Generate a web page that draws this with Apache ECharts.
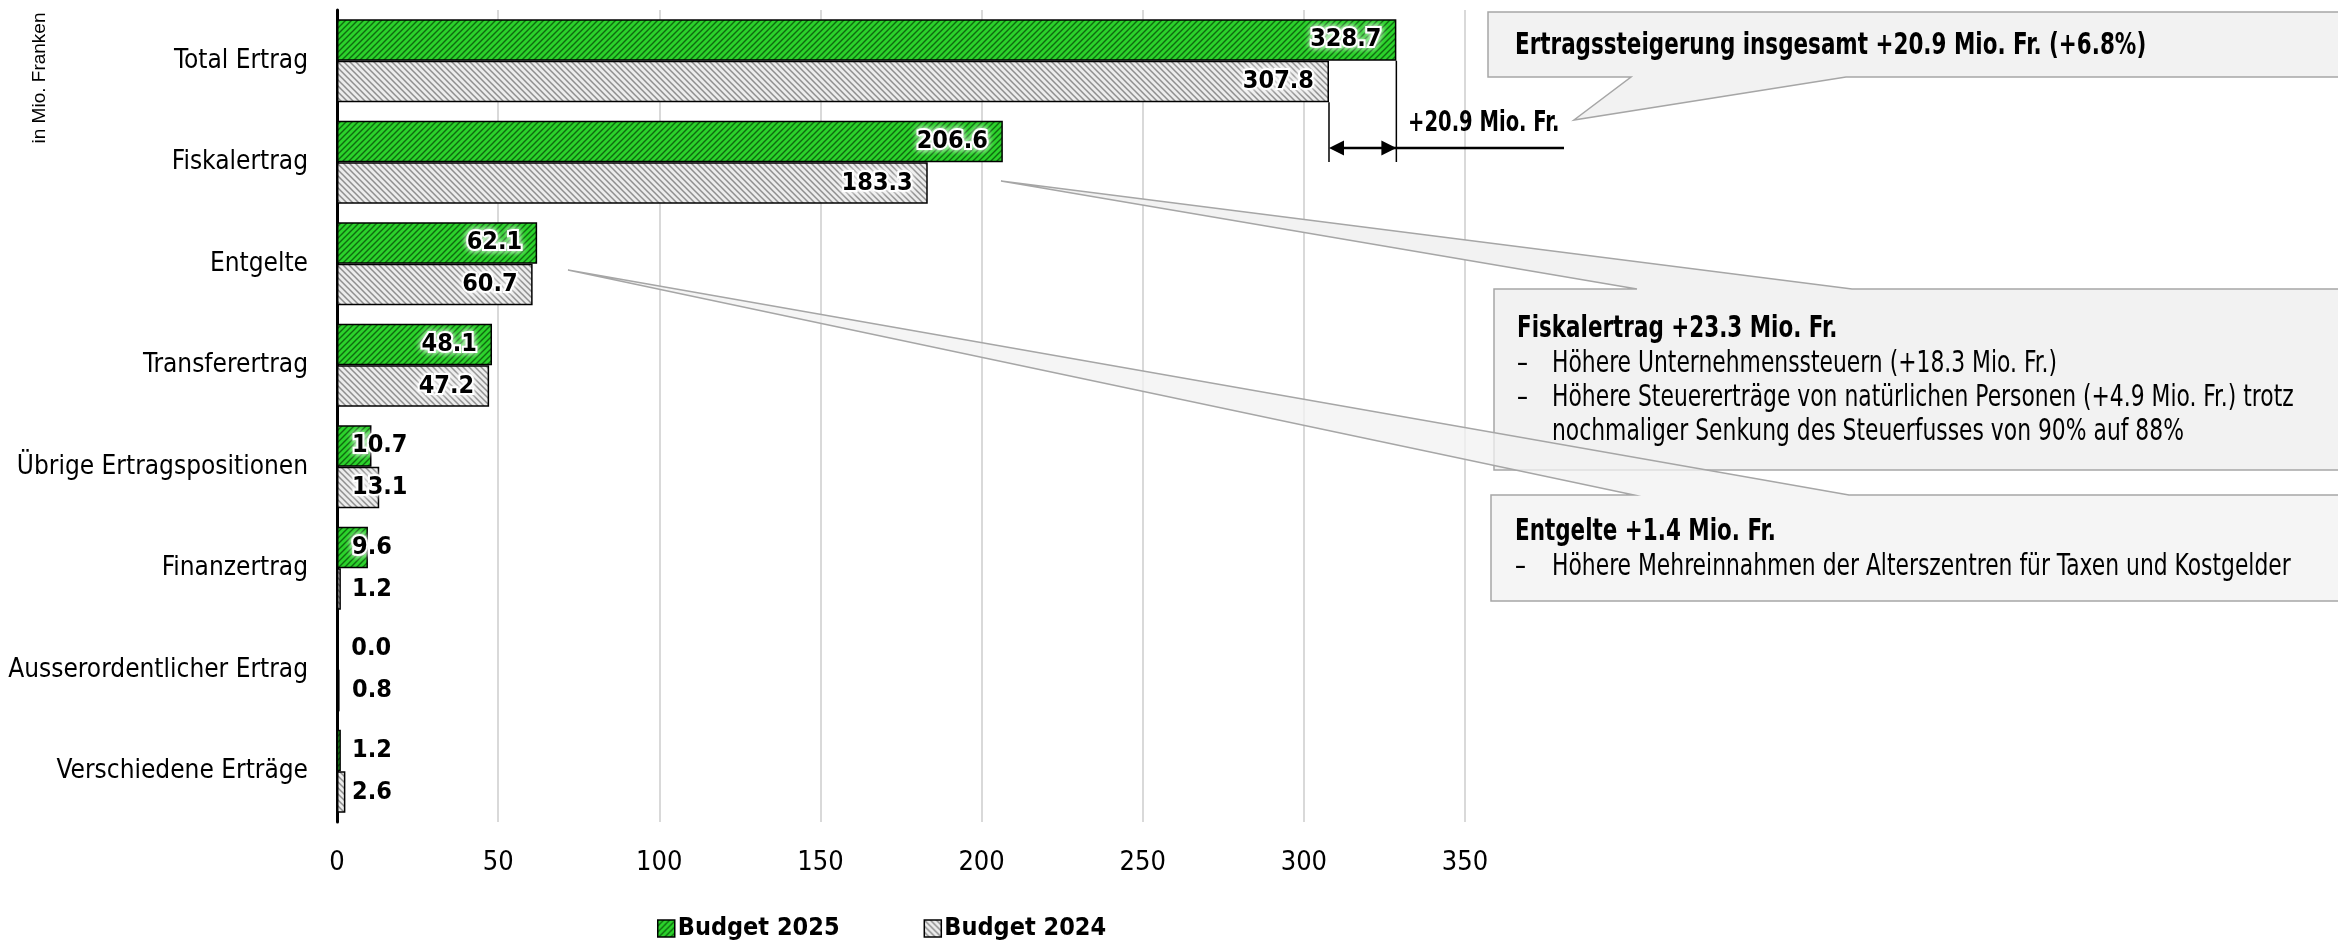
<!DOCTYPE html>
<html>
<head>
<meta charset="utf-8">
<script src="https://cdn.jsdelivr.net/npm/echarts@6/dist/echarts.min.js"></script>
<style>
html,body{margin:0;padding:0;background:#fff;}
#c{width:2338px;height:940px;}
</style>
</head>
<body>
<div id="c"></div>
<script>
const categories = ['Total Ertrag','Fiskalertrag','Entgelte','Transferertrag','Übrige Ertragspositionen','Finanzertrag','Ausserordentlicher Ertrag','Verschiedene Erträge'];
const budget2025 = [328.7, 206.6, 62.1, 48.1, 10.7, 9.6, 0.0, 1.2];
const budget2024 = [307.8, 183.3, 60.7, 47.2, 13.1, 1.2, 0.8, 2.6];
const seriesNames = ['Budget 2025', 'Budget 2024'];
const xTicks = {min: 0, max: 350, interval: 50};
const unitLabel = 'in Mio. Franken';
const diffLabel = '+20.9 Mio. Fr.';
const callout1 = 'Ertragssteigerung insgesamt +20.9 Mio. Fr. (+6.8%)';
const callout2Title = 'Fiskalertrag +23.3 Mio. Fr.';
const callout2Lines = ['Höhere Unternehmenssteuern (+18.3 Mio. Fr.)', 'Höhere Steuererträge von natürlichen Personen (+4.9 Mio. Fr.) trotz', 'nochmaliger Senkung des Steuerfusses von 90% auf 88%'];
const callout3Title = 'Entgelte +1.4 Mio. Fr.';
const callout3Lines = ['Höhere Mehreinnahmen der Alterszentren für Taxen und Kostgelder'];

const NARROW = "'Liberation Sans Narrow','Arial Narrow','DejaVu Sans Condensed',sans-serif";

function makePattern(bg, fg, dir, lw) {
  const s = 6;
  const c = document.createElement('canvas');
  c.width = s; c.height = s;
  const g = c.getContext('2d');
  g.fillStyle = bg; g.fillRect(0, 0, s, s);
  g.strokeStyle = fg; g.lineWidth = lw;
  g.beginPath();
  if (dir === '/') {
    g.moveTo(-1, 1); g.lineTo(1, -1);
    g.moveTo(0, s); g.lineTo(s, 0);
    g.moveTo(s - 1, s + 1); g.lineTo(s + 1, s - 1);
  } else {
    g.moveTo(-1, s - 1); g.lineTo(1, s + 1);
    g.moveTo(0, 0); g.lineTo(s, s);
    g.moveTo(s - 1, -1); g.lineTo(s + 1, 1);
  }
  g.stroke();
  return {image: c, repeat: 'repeat'};
}
const greenPat = makePattern('#2bd22b', '#0f6a0f', '/', 1.4);
const greyPat = makePattern('#ececec', '#8f8f8f', '\\', 1.5);

function labelFor(v) {
  const big = v > 30;
  return {
    show: true,
    position: big ? 'insideRight' : 'insideLeft',
    distance: 15,
    formatter: (p) => p.value.toFixed(1),
    fontFamily: NARROW, fontWeight: 'bold', fontSize: 25, color: '#000',
    textBorderColor: '#fff', textBorderWidth: 4,
    textShadowColor: 'rgba(255,255,255,0.9)', textShadowBlur: 6
  };
}
function mkData(arr) {
  return arr.map(v => ({value: v, label: labelFor(v)}));
}

const chart = echarts.init(document.getElementById('c'), null, {renderer: 'canvas'});
const option = {
  animation: false,
  backgroundColor: '#fff',
  grid: {left: 337, right: 873, top: 10, bottom: 118, containLabel: false, outerBoundsMode: 'none'},
  legend: {
    left: 652, top: 911,
    icon: 'rect',
    itemWidth: 17, itemHeight: 17, itemGap: 84,
    textStyle: {fontFamily: NARROW, fontWeight: 'bold', fontSize: 25, color: '#000', padding: [0,0,0,-2]},
    data: seriesNames.map(n => ({name: n, itemStyle: {borderColor: '#000', borderWidth: 1.5}}))
  },
  xAxis: {
    type: 'value', min: xTicks.min, max: xTicks.max, interval: xTicks.interval,
    axisLine: {show: false}, axisTick: {show: false},
    axisLabel: {fontFamily: NARROW, fontSize: 27, color: '#000', margin: 27},
    splitLine: {show: true, lineStyle: {color: '#d9d9d9', width: 2}}
  },
  yAxis: {
    type: 'category', data: categories, inverse: true,
    axisLine: {show: true, lineStyle: {color: '#000', width: 3}},
    axisTick: {show: false},
    axisLabel: {fontFamily: NARROW, fontSize: 26, color: '#000', margin: 29}
  },
  series: [
    {name: seriesNames[0], type: 'bar', data: mkData(budget2025), barGap: '0%', barCategoryGap: '18%',
     itemStyle: {color: greenPat, borderColor: '#000', borderWidth: 1.5}, z: 3},
    {name: seriesNames[1], type: 'bar', data: mkData(budget2024), barGap: '0%', barCategoryGap: '18%',
     itemStyle: {color: greyPat, borderColor: '#000', borderWidth: 1.5}, z: 3}
  ]
};
chart.setOption(option);

// annotations
const xNew = chart.convertToPixel({xAxisIndex: 0}, budget2025[0]);
const xOld = chart.convertToPixel({xAxisIndex: 0}, budget2024[0]);
const yTot = chart.convertToPixel({yAxisIndex: 0}, categories[0]);
const band = (940 - 118 - 10) / categories.length;
const bw = band * (1 - 0.18) / 2;
const arrowY = 148, vBottom = 162;
const fillC = '#f2f2f2', strokeC = '#a6a6a6';
const SXB = 0.77, SXR = 0.81;
const txtBold = {fontFamily: NARROW, fontWeight: 'bold', fontSize: 31, fill: '#000'};
const txtReg = {fontFamily: NARROW, fontSize: 30, fill: '#000'};

function T(x, y, text, st, sx) {
  return {type: 'text', x: x, y: y, scaleX: sx, z: 14,
    style: Object.assign({text: text, verticalAlign: 'middle', align: 'left'}, st)};
}

const g = [];
// vertical reference lines & arrow
g.push({type: 'line', shape: {x1: xNew, y1: yTot, x2: xNew, y2: vBottom}, style: {stroke: '#000', lineWidth: 1.5}, z: 10});
g.push({type: 'line', shape: {x1: xOld, y1: yTot + bw, x2: xOld, y2: vBottom}, style: {stroke: '#000', lineWidth: 1.5}, z: 10});
g.push({type: 'line', shape: {x1: xOld + 12, y1: arrowY, x2: 1564, y2: arrowY}, style: {stroke: '#000', lineWidth: 2.5}, z: 10});
g.push({type: 'polygon', shape: {points: [[xOld, arrowY], [xOld + 15, arrowY - 7.5], [xOld + 15, arrowY + 7.5]]}, style: {fill: '#000'}, z: 10});
g.push({type: 'polygon', shape: {points: [[xNew, arrowY], [xNew - 15, arrowY - 7.5], [xNew - 15, arrowY + 7.5]]}, style: {fill: '#000'}, z: 10});
g.push(T(1408, 123, diffLabel, Object.assign({}, txtBold, {fontSize: 29}), 0.75));

// callout 1
g.push({type: 'polygon', shape: {points: [[1488,12],[2345,12],[2345,77],[1846,77],[1574,120],[1631,77],[1488,77]]},
  style: {fill: fillC, stroke: strokeC, lineWidth: 1.5}, z: 11});
g.push(T(1515, 46, callout1, txtBold, SXB));

// callout 2
g.push({type: 'polygon', shape: {points: [[1494,289],[1637,289],[1001,181],[1852,289],[2345,289],[2345,470],[1494,470]]},
  style: {fill: fillC, stroke: strokeC, lineWidth: 1.5}, z: 11});
// callout 3
g.push({type: 'polygon', shape: {points: [[1491,495],[1634,495],[568,270],[1849,495],[2345,495],[2345,601],[1491,601]]},
  style: {fill: 'rgba(242,242,242,0.75)', stroke: strokeC, lineWidth: 1.5}, z: 12});

g.push(T(1517, 329, callout2Title, txtBold, SXB));
const c2y = [364, 398, 432];
callout2Lines.forEach((t, i) => {
  if (i < 2) g.push(T(1517, c2y[i], '–', txtReg, SXR));
  g.push(T(1552, c2y[i], t, txtReg, SXR));
});
g.push(T(1515, 532, callout3Title, txtBold, SXB));
g.push(T(1515, 567, '–', txtReg, SXR));
g.push(T(1552, 567, callout3Lines[0], txtReg, SXR));

// unit label
g.push({type: 'text', x: 40, y: 78, rotation: Math.PI / 2,
  style: {text: unitLabel, align: 'center', verticalAlign: 'middle', fontFamily: "'Liberation Sans',Arial,sans-serif", fontSize: 19, fill: '#000'}, z: 10});

chart.setOption({graphic: {elements: g}});
</script>
</body>
</html>
